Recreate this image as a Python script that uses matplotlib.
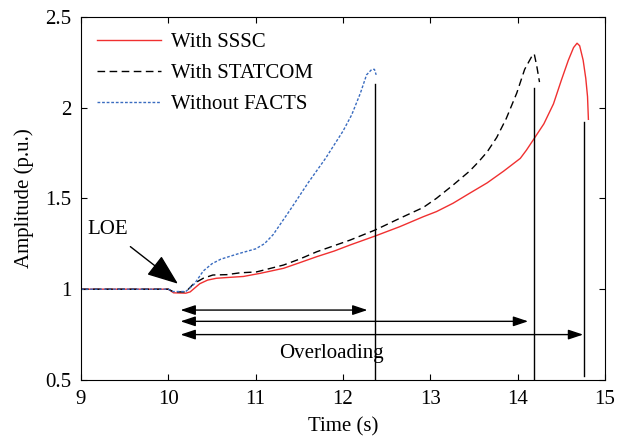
import matplotlib
matplotlib.use("Agg")
import matplotlib.pyplot as plt

plt.rcParams['font.family'] = ['Liberation Serif', 'DejaVu Serif']

# ---- data ----
t_sssc = [9.0, 10.0, 10.06, 10.2, 10.25, 10.36, 10.45, 10.55, 10.7, 10.86, 11.05, 11.32, 11.5,
          11.7, 11.9, 12.08, 12.37, 12.65, 12.92, 13.07, 13.26, 13.45, 13.65, 13.84, 14.03, 14.1,
          14.19, 14.3, 14.41, 14.5, 14.58, 14.64, 14.68, 14.71, 14.75, 14.78, 14.80, 14.81]
v_sssc = [1.0, 1.0, 0.98, 0.978, 0.985, 1.03, 1.05, 1.06, 1.065, 1.07, 1.087, 1.115, 1.145,
          1.179, 1.21, 1.243, 1.293, 1.344, 1.399, 1.427, 1.473, 1.528, 1.585, 1.65, 1.72, 1.765,
          1.83, 1.91, 2.02, 2.15, 2.26, 2.33, 2.354, 2.34, 2.26, 2.16, 2.06, 1.935]

t_statcom = [9.0, 10.0, 10.06, 10.2, 10.29, 10.4, 10.51, 10.67, 10.82, 11.01, 11.32, 11.5, 11.7,
             12.08, 12.37, 12.65, 12.92, 13.07, 13.26, 13.45, 13.55, 13.65, 13.76, 13.87, 13.99,
             14.08, 14.16, 14.19, 14.22, 14.25]
v_statcom = [1.0, 1.0, 0.985, 0.985, 1.03, 1.06, 1.078, 1.08, 1.09, 1.095, 1.133, 1.165, 1.206,
             1.27, 1.326, 1.39, 1.45, 1.50, 1.573, 1.65, 1.70, 1.755, 1.835, 1.94, 2.08,
             2.21, 2.28, 2.295, 2.225, 2.14]

t_nofacts = [9.0, 10.0, 10.05, 10.2, 10.3, 10.4, 10.5, 10.6, 10.8, 11.0, 11.1, 11.2, 11.4, 11.6,
             11.8, 12.0, 12.1, 12.2, 12.27, 12.33, 12.36, 12.38]
v_nofacts = [1.0, 1.0, 0.987, 0.987, 1.03, 1.10, 1.14, 1.165, 1.195, 1.222, 1.25, 1.30, 1.44, 1.585,
             1.72, 1.87, 1.96, 2.08, 2.18, 2.21, 2.21, 2.18]

labels = ['With SSSC', 'With STATCOM', 'Without FACTS']

# trip markers
trip_t = [12.37, 14.19, 14.76]
trip_top = [2.13, 2.11, 1.92]
trip_bottom = [0.5, 0.5, 0.52]

# overloading arrows
ovl_start = 10.14
ovl_end = [12.28, 14.12, 14.75]
ovl_y = [0.885, 0.823, 0.75]

xticks = [9, 10, 11, 12, 13, 14, 15]
yticks = [0.5, 1, 1.5, 2, 2.5]
ytick_labels = ['0.5', '1', '1.5', '2', '2.5']

FS = 15

# ---- figure ----
fig = plt.figure(figsize=(6.2, 4.38), dpi=100)
ax = fig.add_axes([0.1306, 0.1324, 0.8452, 0.8295])

ax.plot(t_sssc, v_sssc, color='#f03030', lw=1.0, ls='-', label=labels[0])
ax.plot(t_statcom, v_statcom, color='black', lw=1.0, ls=(0, (5.5, 3.2)), label=labels[1])
ax.plot(t_nofacts, v_nofacts, color='#3a6cc0', lw=1.0, ls=(0, (2.0, 1.3)), label=labels[2])

for x, top, bot in zip(trip_t, trip_top, trip_bottom):
    ax.plot([x, x], [bot, top], color='black', lw=1.0)

for xe, y in zip(ovl_end, ovl_y):
    ax.annotate('', xy=(xe, y), xytext=(ovl_start, y),
                arrowprops=dict(arrowstyle='<|-|>,head_length=0.9,head_width=0.3',
                                color='black', lw=1.0, shrinkA=0, shrinkB=0))

ax.text(11.87, 0.645, 'Overloading', fontsize=FS, ha='center', va='center')

ax.annotate('LOE', xy=(10.11, 1.03), xytext=(9.31, 1.33), fontsize=FS,
            ha='center', va='center',
            arrowprops=dict(arrowstyle='-|>,head_length=1.3,head_width=0.5',
                            color='black', lw=1.0, shrinkA=6, shrinkB=0))

ax.set_xlim(9, 15)
ax.set_ylim(0.5, 2.5)
ax.set_xticks(xticks)
ax.set_yticks(yticks)
ax.set_yticklabels(ytick_labels)
ax.tick_params(direction='in', top=True, right=True, labelsize=FS, length=4, width=0.8)
ax.tick_params(axis='x', pad=7)
ax.tick_params(axis='y', pad=7)
for s in ax.spines.values():
    s.set_linewidth(0.8)

ax.set_xlabel('Time (s)', fontsize=FS, labelpad=6)
ax.set_ylabel('Amplitude (p.u.)', fontsize=FS, labelpad=8)

ax.legend(loc='upper left', bbox_to_anchor=(0.0, 1.0), frameon=False, fontsize=FS,
          handlelength=3.1, labelspacing=0.55, handletextpad=0.45, borderaxespad=0.35)

fig.savefig('out.png', dpi=100)
